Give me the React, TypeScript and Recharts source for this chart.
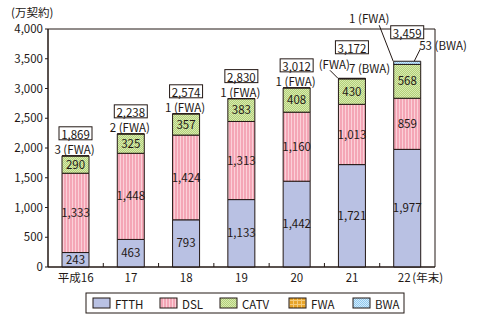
import React from 'react';
import { BarChart, Bar, XAxis, YAxis, LabelList, ReferenceArea } from 'recharts';

const categories = ['平成16', '17', '18', '19', '20', '21', '22'];
const ftth = [243, 463, 793, 1133, 1442, 1721, 1977];
const dsl = [1333, 1448, 1424, 1313, 1160, 1013, 859];
const catv = [290, 325, 357, 383, 408, 430, 568];
const fwa = [3, 2, 1, 1, 1, 1, 1];
const bwa = [0, 0, 0, 0, 0, 7, 53];
const totals = [1869, 2238, 2574, 2830, 3012, 3172, 3459];
const yTicks = [0, 500, 1000, 1500, 2000, 2500, 3000, 3500, 4000];

const data = categories.map((name, i) => ({
  name,
  ftth: ftth[i],
  dsl: dsl[i],
  catv: catv[i],
  fwa: fwa[i],
  bwa: bwa[i],
  total: totals[i],
}));

const FONT = '"Noto Sans CJK JP", "Noto Sans", sans-serif';
const INK = '#231815';
const W = 481;
const H = 325;
const X_AXIS_H = 20;
const M = { top: 29, right: 46, bottom: 58 - X_AXIS_H, left: 0 };
const Y_AXIS_W = 48;
const Y_MAX = 4000;
const AXIS_Y = H - 58;
const PLOT_H = AXIS_Y - M.top;
const BAND = (W - M.left - Y_AXIS_W - M.right) / categories.length;
const FS = 11.5;

const fmt = (v: number) => v.toLocaleString('en-US');

const legendItems = [
  { key: 'ftth', label: 'FTTH', fill: '#b9c1e3', x: 7 },
  { key: 'dsl', label: 'DSL', fill: 'url(#pat-dsl)', x: 74 },
  { key: 'catv', label: 'CATV', fill: 'url(#pat-catv)', x: 134 },
  { key: 'fwa', label: 'FWA', fill: 'url(#pat-fwa)', x: 203 },
  { key: 'bwa', label: 'BWA', fill: 'url(#pat-bwa)', x: 267 },
];

const Patterns = () => (
  <svg width="0" height="0" style={{ position: 'absolute' }}>
    <defs>
      <pattern id="pat-dsl" width="3" height="2" patternUnits="userSpaceOnUse">
        <rect width="3" height="2" fill="#f4a6b6" />
        <rect width="1" height="2" fill="#fbd0d8" />
      </pattern>
      <pattern id="pat-catv" width="2" height="2" patternUnits="userSpaceOnUse">
        <rect width="2" height="2" fill="#b3d17a" />
        <rect width="1" height="1" fill="#d9eab0" />
        <rect x="1" y="1" width="1" height="1" fill="#d9eab0" />
      </pattern>
      <pattern id="pat-fwa" width="4" height="4" patternUnits="userSpaceOnUse">
        <rect width="4" height="4" fill="#e8a428" />
        <rect width="4" height="1" fill="#f5cb7a" />
        <rect width="1" height="4" fill="#f5cb7a" />
      </pattern>
      <pattern id="pat-bwa" width="2" height="2" patternUnits="userSpaceOnUse">
        <rect width="2" height="2" fill="#92c9ef" />
        <rect width="1" height="1" fill="#d2ecfc" />
        <rect x="1" y="1" width="1" height="1" fill="#d2ecfc" />
      </pattern>
    </defs>
  </svg>
);

const XTick = (props: any) => {
  const { x, y, payload, index } = props;
  const boundary = x + BAND / 2;
  const last = index === categories.length - 1;
  return (
    <g>
      {!last && <line x1={boundary} y1={AXIS_Y} x2={boundary} y2={AXIS_Y - 4} stroke={INK} />}
      {last ? (
        <text y={y} dy="0.71em" fontSize={FS} fontFamily={FONT} fill={INK}>
          <tspan x={x - 9.5}>{payload.value}</tspan>
          <tspan x={x + 5}>(年末)</tspan>
        </text>
      ) : (
        <text x={x} y={y} dy="0.71em" textAnchor="middle" fontSize={FS} fontFamily={FONT} fill={INK}>
          {payload.value}
        </text>
      )}
    </g>
  );
};

const txt = { fontSize: FS, fontFamily: FONT, fill: INK } as const;

const TotalBox = ({ cx, cy, value }: { cx: number; cy: number; value: number }) => (
  <g>
    <rect x={cx - 16.5} y={cy - 6.5} width={33} height={13} fill="#fff" stroke={INK} />
    <text x={cx} y={cy + 0.5} textAnchor="middle" dominantBaseline="central" {...txt}>
      {fmt(value)}
    </text>
  </g>
);

// placed on the FWA segment (never zero); lifted by the BWA segment above it
const TopLabel = (props: any) => {
  const { x, y, width, index } = props;
  const cx = x + width / 2;
  const t = y - (bwa[index] / Y_MAX) * PLOT_H;
  const total = totals[index];
  if (index === 5) {
    return (
      <g>
        <TotalBox cx={cx} cy={t - 31} value={total} />
        <text x={cx - 2} y={t - 14} textAnchor="end" dominantBaseline="central" {...txt}>(FWA)</text>
        <line x1={cx - 22} y1={t - 8} x2={cx - 14} y2={t} stroke={INK} />
        <text x={cx - 3} y={t - 10} dominantBaseline="central" {...txt}>{`${bwa[index]} (BWA)`}</text>
      </g>
    );
  }
  if (index === 6) {
    return (
      <g>
        <TotalBox cx={cx} cy={t - 29} value={total} />
        <text x={cx - 38} y={t - 43} textAnchor="middle" dominantBaseline="central" {...txt}>{`${fwa[index]} (FWA)`}</text>
        <line x1={cx - 28} y1={t - 36} x2={cx - 14} y2={t} stroke={INK} />
        <text x={cx + 12} y={t - 16} dominantBaseline="central" {...txt}>{`${bwa[index]} (BWA)`}</text>
        <line x1={cx + 13} y1={t - 12} x2={cx + 7} y2={t} stroke={INK} />
      </g>
    );
  }
  return (
    <g>
      <TotalBox cx={cx} cy={t - 22.5} value={total} />
      <text x={cx - 1} y={t - 7} textAnchor="middle" dominantBaseline="central" {...txt}>{`${fwa[index]} (FWA)`}</text>
    </g>
  );
};

const inner = { fill: INK, fontSize: FS, fontFamily: FONT };

export default function App() {
  return (
    <div style={{ position: 'absolute', left: 0, top: 0, width: W, height: H, background: '#fff', fontFamily: FONT }}>
      <Patterns />
      <div style={{ position: 'absolute', left: 11, top: 5, fontSize: FS, color: INK, lineHeight: '14px' }}>
        (万契約)
      </div>
      <BarChart width={W} height={H} data={data} margin={M} barSize={27}>
        <XAxis
          dataKey="name"
          stroke={INK}
          height={X_AXIS_H}
          tickLine={false}
          tickSize={4}
          tickMargin={3}
          tick={<XTick />}
          interval={0}
        />
        <YAxis
          width={Y_AXIS_W}
          domain={[0, Y_MAX]}
          ticks={yTicks}
          tickFormatter={fmt}
          stroke={INK}
          tickSize={3}
          tick={{ fill: INK, fontSize: FS, fontFamily: FONT }}
          interval={0}
        />
        {/* plot frame (top and right edges) */}
        <ReferenceArea x1={categories[0]} x2={categories[categories.length - 1]} y1={0} y2={Y_MAX} fill="none" stroke={INK} strokeOpacity={1} />
        <Bar dataKey="ftth" stackId="a" fill="#b9c1e3" stroke={INK} isAnimationActive={false}>
          <LabelList dataKey="ftth" position="center" formatter={(v: any) => fmt(v)} style={inner} />
        </Bar>
        <Bar dataKey="dsl" stackId="a" fill="url(#pat-dsl)" stroke={INK} isAnimationActive={false}>
          <LabelList dataKey="dsl" position="center" formatter={(v: any) => fmt(v)} style={inner} />
        </Bar>
        <Bar dataKey="catv" stackId="a" fill="url(#pat-catv)" stroke={INK} isAnimationActive={false}>
          <LabelList dataKey="catv" position="center" formatter={(v: any) => fmt(v)} style={inner} />
        </Bar>
        <Bar dataKey="fwa" stackId="a" fill="url(#pat-fwa)" stroke={INK} isAnimationActive={false}>
          <LabelList dataKey="total" content={<TopLabel />} />
        </Bar>
        <Bar dataKey="bwa" stackId="a" fill="url(#pat-bwa)" stroke={INK} isAnimationActive={false} />
      </BarChart>
      <svg width={320} height={22} style={{ position: 'absolute', left: 85, top: 292 }}>
        <rect x={1} y={1} width={318} height={20} fill="#fff" stroke={INK} />
        {legendItems.map((it) => (
          <g key={it.key}>
            <rect x={it.x + 1} y={6} width={17} height={10} fill={it.fill} stroke={INK} />
            <text x={it.x + 23} y={11.5} dominantBaseline="central" {...txt}>{it.label}</text>
          </g>
        ))}
      </svg>
    </div>
  );
}
